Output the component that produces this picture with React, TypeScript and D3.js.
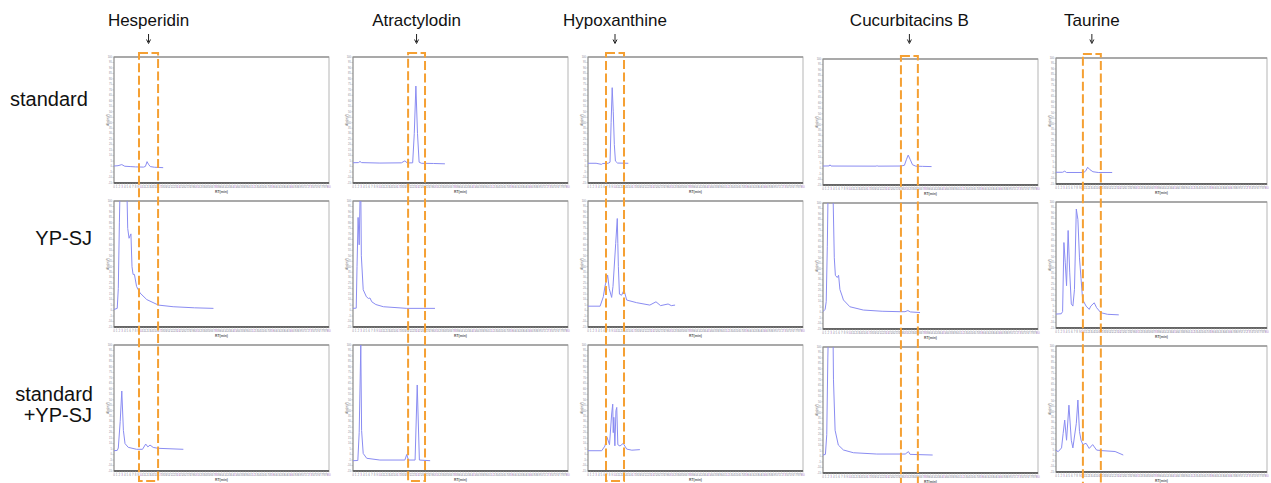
import React from "react";
import * as d3 from "d3";

const W = 1271;
const H = 483;

const compounds = ["Hesperidin", "Atractylodin", "Hypoxanthine", "Cucurbitacins B", "Taurine"];
const rowLabels = [["standard"], ["YP-SJ"], ["standard", "+YP-SJ"]];
// retention window (min) marked by the orange box in each column
const windows = [[9.3, 16.4], [20.5, 26.8], [6.7, 13.4], [29, 35.3], [10.2, 17]];

const xTickValues = d3.range(0, 81, 1);
const yTickValues = d3.range(-15, 101, 5);

// [time, signal]
const hesperidinStd = [[0, 0.5], [1.5, 0.8], [2.9, 1.8], [4, 0.3], [6, 0], [8, -0.3], [11, -0.5], [11.7, 0.2], [12.3, 4.5], [12.8, 2.2], [13.5, 0], [15, -0.6], [18.3, -1]];
const atractylodinStd = [[0, 3.5], [2, 3.6], [2.6, 4.6], [3.2, 3.6], [10, 3.2], [18, 3.4], [19.3, 5.2], [20.2, 3.3], [22.2, 3.4], [22.8, 30], [23.4, 73.5], [24, 30], [24.6, 4], [25.5, 3], [30, 2.8], [34.2, 2.5]];
const hypoxanthineStd = [[0, 3], [3, 3], [5, 2], [5.5, 2.8], [7.5, 3], [8.2, 4], [8.6, 40], [9, 72], [9.4, 50], [9.8, 20], [10.2, 5], [11, 3.2], [15, 3]];
const cucurbitacinStd = [[0, 2.3], [2.3, 2.4], [2.6, 3.4], [3, 2.3], [19.8, 2.2], [20.1, 2.8], [20.4, 2.2], [29, 2.3], [30.3, 3], [31, 8], [31.7, 12.3], [32.5, 8], [33.3, 3.5], [34.5, 2.2], [37, 2], [40.4, 1.8]];
const taurineStd = [[0, -4.3], [2.5, -4.3], [3.3, -3.3], [4, -4.5], [10.5, -4.5], [11.3, -3], [12, 0.3], [12.8, -1.8], [14, -3.8], [16, -4.5], [21.3, -4.5]];

const hesperidinYP = [[0, 1], [1.2, 2], [1.6, 20], [2, 80], [2.4, 130], [3, 140], [4, 135], [4.8, 110], [5.1, 75], [5.6, 66], [6.3, 70], [6.7, 40], [7.1, 33], [7.6, 33], [8.4, 22], [9.7, 16], [12.2, 10], [16.5, 5], [22, 3.5], [30, 2.5], [37, 2]];
const atractylodinYP = [[0, 2], [1.2, 2.2], [1.5, 40], [1.9, 85], [2.3, 60], [2.6, 100], [2.8, 140], [3.1, 50], [3.8, 19], [5, 12.5], [5.8, 11], [6.3, 11.5], [7, 8], [8.5, 5.5], [11.3, 3.5], [20, 2], [30.5, 2]];
const hypoxanthineYP = [[0, 4], [4.5, 4], [5.7, 12.6], [6.3, 21.8], [7.3, 32.4], [7.9, 20], [8.8, 12], [9.3, 22], [10.3, 61], [10.9, 84], [11.1, 61], [11.3, 40], [11.7, 15], [12.5, 14], [13.4, 18.7], [14.4, 9.6], [18.1, 7.2], [23, 5], [25.3, 8], [27, 4.5], [29.8, 6], [31, 4.5], [32.4, 5]];
const cucurbitacinYP = [[0, 0.8], [0.8, 3], [1.2, 10], [1.6, 60], [2, 130], [3, 140], [3.8, 100], [4.2, 50], [4.6, 34], [5.3, 32], [5.8, 34], [6.3, 21], [7, 16], [7.6, 11.5], [10, 5.3], [15, 2.3], [22, 1.2], [28.7, 0.8], [30.5, 0.8], [31.6, 1.8], [32.5, 0.6], [36.1, 0]];
const taurineYP = [[0, -2.3], [2, -2], [2.5, 0], [3, 63], [3.5, 45], [4, 23.6], [4.6, 74], [5.2, 36], [5.8, 7], [6.4, 5], [7, 20], [7.7, 93.6], [8.3, 84], [8.9, 49], [9.5, 30], [10.1, 11], [11.4, 5], [12.6, 2], [13.2, 5], [14.5, 8], [15.4, 3.5], [17, -1], [19.5, -2.5], [23.8, -3]];

const hesperidinMix = [[0, 3.5], [1.2, 3.8], [1.6, 6], [2.3, 30], [2.9, 58], [3.5, 22], [4.1, 10], [5.3, 6.6], [8.4, 4.8], [10.6, 4.8], [11.8, 9.6], [12.6, 7], [13.4, 8.7], [14.6, 6.5], [16.5, 5.7], [25.8, 4.8]];
const atractylodinMix = [[0, -5.6], [1.8, -5.4], [2.3, 20], [2.9, 100], [3.2, 22], [3.8, 1], [5.1, -3.4], [10, -5], [19.3, -5], [20, 0.1], [20.6, -5], [23.1, -5], [23.9, 63.5], [24.7, -5], [28.7, -5.6]];
const hypoxanthineMix = [[0, 3.5], [5.1, 3.5], [6.3, 7.8], [7, 16.3], [8, 9], [8.8, 37], [9.2, 46], [9.4, 20], [9.6, 34], [10, 8], [10.4, 40], [10.7, 43], [11.1, 9], [11.9, 7.8], [13.1, 10.2], [14.4, 5], [16.3, 4], [19.3, 4.5]];
const cucurbitacinMix = [[0, 1.4], [0.9, 2], [1.4, 20], [1.8, 90], [2.2, 140], [3, 150], [3.7, 120], [3.9, 70], [4.5, 24], [5.7, 10.5], [7.6, 6], [11.3, 3.5], [20, 2.3], [30.6, 2.3], [31.8, 4.5], [32.4, 2], [40.8, 1.4]];
const taurineMix = [[0, 5], [0.8, 3.5], [2.1, 7], [2.7, 20], [3.3, 32.4], [4, 14], [4.9, 46], [5.8, 14], [6.4, 7], [7.7, 29.4], [8.3, 50.7], [8.9, 22], [9.5, 14], [10.2, 10], [11.4, 11.2], [12.6, 6.5], [13.9, 10], [15.4, 5], [17.4, 4.5], [22.4, 3.7], [25.5, 0.5]];

const traces = [
  [hesperidinStd, atractylodinStd, hypoxanthineStd, cucurbitacinStd, taurineStd],
  [hesperidinYP, atractylodinYP, hypoxanthineYP, cucurbitacinYP, taurineYP],
  [hesperidinMix, atractylodinMix, hypoxanthineMix, cucurbitacinMix, taurineMix],
];

const colLeft = [114, 353, 588, 823, 1056];
const colWidth = [215, 215, 215, 215, 211];
const colShift = [0, 0, 0, 2, 1];
const rowTop = [57, 201, 345];
const boxTop = [53, 53, 53, 56, 54];
const panelH = 126;
const font = "Arial, 'Liberation Sans', sans-serif";
const orange = "#f5a033";
const blue = "#8a8cf2";

function Panel({ r, c }: { r: number; c: number }) {
  const L = colLeft[c];
  const panelW = colWidth[c];
  const T = rowTop[r] + colShift[c];
  const x = d3.scaleLinear().domain([0, 80]).range([L, L + panelW]);
  const y = d3.scaleLinear().domain([-15, 100]).range([T + panelH, T]);
  const line = d3.line<number[]>().x(d => x(d[0])).y(d => y(d[1]));
  const id = `clip-${r}-${c}`;
  return (
    <g>
      <clipPath id={id}>
        <rect x={L} y={T} width={panelW} height={panelH} />
      </clipPath>
      <rect x={L} y={T} width={panelW} height={panelH} fill="#fff" stroke="#b5b5b5" strokeWidth={1} />
      <line x1={L} x2={L + panelW} y1={T} y2={T} stroke="#999" strokeWidth={1.6} />
      <line x1={L} x2={L} y1={T} y2={T + panelH} stroke="#888" strokeWidth={0.8} />
      <line x1={L} x2={L + panelW} y1={T + panelH} y2={T + panelH} stroke="#666" strokeWidth={1.8} />
      {yTickValues.map(v => (
        <g key={v}>
          <line x1={L - 1.5} x2={L} y1={y(v)} y2={y(v)} stroke="#999" strokeWidth={0.5} />
          <text x={L - 2} y={y(v) + 0.8} fontSize={2.6} fill="#8a8a9a" textAnchor="end" fontFamily={font}>{v}</text>
        </g>
      ))}
      {xTickValues.map(v => (
        <g key={v}>
          <line x1={x(v)} x2={x(v)} y1={T + panelH} y2={T + panelH + 1.5} stroke="#999" strokeWidth={0.5} />
          <text x={x(v)} y={T + panelH + 4.8} fontSize={3} fill={v % 7 === 3 ? "#b07cc4" : "#8e8ea0"} textAnchor="middle" fontFamily={font}>{v}</text>
        </g>
      ))}
      <text x={L + panelW / 2} y={T + panelH + 9.5} fontSize={3.4} fill="#555" textAnchor="middle" fontFamily={font} fontWeight="bold">RT(min)</text>
      <text transform={`translate(${L - 5},${T + panelH / 2}) rotate(-90)`} fontSize={2.9} fill="#666" textAnchor="middle" fontFamily={font}>Abs(mV)</text>
      <path d={line(traces[r][c]) || ""} fill="none" stroke={blue} strokeWidth={1} clipPath={`url(#${id})`} />
    </g>
  );
}

export default function App() {
  return (
    <svg width={W} height={H} style={{ position: "absolute", left: 0, top: 0, background: "#fff" }}>
      <rect width={W} height={H} fill="#fff" />
      {rowTop.map((_, r) => compounds.map((_, c) => <Panel key={`${r}-${c}`} r={r} c={c} />))}
      {compounds.map((name, c) => {
        const x = d3.scaleLinear().domain([0, 80]).range([colLeft[c], colLeft[c] + colWidth[c]]);
        const x1 = x(windows[c][0]);
        const x2 = x(windows[c][1]);
        const cx = (x1 + x2) / 2;
        const bottom = c >= 3 ? 492 : 481;
        return (
          <g key={name}>
            <text x={cx} y={26} fontSize={17} textAnchor="middle" fontFamily={font} fill="#111">{name}</text>
            <line x1={cx} x2={cx} y1={34} y2={42} stroke="#222" strokeWidth={1} />
            <path d={`M${cx - 2},${39.5}L${cx},${43.5}L${cx + 2},${39.5}`} fill="none" stroke="#222" strokeWidth={1} />
            <rect x={x1} y={boxTop[c]} width={x2 - x1} height={bottom - boxTop[c]} fill="none" stroke={orange} strokeWidth={2} strokeDasharray="9,3.5" />
          </g>
        );
      })}
      <text x={10} y={106} fontSize={20} fontFamily={font} fill="#111">{rowLabels[0][0]}</text>
      <text x={92} y={245} fontSize={20} fontFamily={font} fill="#111" textAnchor="end">{rowLabels[1][0]}</text>
      <text x={93} y={401} fontSize={20} fontFamily={font} fill="#111" textAnchor="end">{rowLabels[2][0]}</text>
      <text x={92} y={422} fontSize={20} fontFamily={font} fill="#111" textAnchor="end">{rowLabels[2][1]}</text>
    </svg>
  );
}
